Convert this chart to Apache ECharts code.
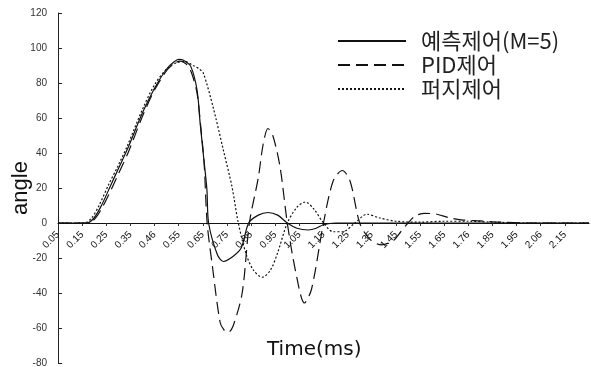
<!DOCTYPE html>
<html>
<head>
<meta charset="utf-8">
<script src="https://cdn.jsdelivr.net/npm/echarts@6/dist/echarts.min.js"></script>
<style>
  html, body { margin: 0; padding: 0; background: #fff; }
  #main { width: 591px; height: 367px; }
</style>
</head>
<body>
<div id="main"></div>
<script>
// 눈금 위치와 라벨 (그림에 찍힌 그대로)
const tickValues = [0.05, 0.15, 0.25, 0.35, 0.45, 0.55, 0.65, 0.75, 0.85, 0.95, 1.05,
                    1.15, 1.25, 1.35, 1.45, 1.55, 1.65, 1.75, 1.85, 1.95, 2.05, 2.15];
const tickLabels = ['0.05', '0.15', '0.25', '0.35', '0.46', '0.55', '0.65', '0.75', '0.85', '0.95', '1.05',
                    '1.15', '1.25', '1.35', '1.45', '1.55', '1.65', '1.76', '1.85', '1.95', '2.06', '2.15'];

const seriesNames = ['예측제어(M=5)', 'PID제어', '퍼지제어'];

// 예측제어 (실선)
const predTime = [0.05, 0.17, 0.20, 0.23, 0.27, 0.30, 0.34, 0.40, 0.45, 0.50, 0.53, 0.55, 0.57, 0.60,
                  0.626, 0.639, 0.653, 0.667, 0.674, 0.71, 0.735, 0.776, 0.81, 0.84, 0.88, 0.92, 0.96,
                  1.00, 1.04, 1.087, 1.12, 1.15, 1.20, 1.30, 1.50, 2.25];
const predValue = [0, 0, 3, 10, 22, 31, 43, 63, 77, 88, 92, 93.5, 93, 89.5,
                   76, 57, 38, 19, 0, -18, -22, -19, -14, 0, 4.5, 6, 4.5,
                   0, -3, -4, -3, -1, 0, 0, 0, 0];

// PID제어 (파선)
const pidTime = [0.05, 0.17, 0.20, 0.23, 0.27, 0.30, 0.34, 0.40, 0.45, 0.50, 0.53, 0.555, 0.58, 0.60,
                 0.625, 0.64, 0.655, 0.668, 0.69, 0.722, 0.74, 0.755, 0.775, 0.813, 0.843, 0.88, 0.90,
                 0.92, 0.94, 0.97, 1.00, 1.035, 1.071, 1.10, 1.15, 1.19, 1.228, 1.26, 1.30, 1.34,
                 1.39, 1.44, 1.47, 1.50, 1.53, 1.57, 1.62, 1.67, 1.72, 1.80, 1.88, 2.0, 2.25];
const pidValue = [0, 0, 2, 8, 19, 28, 40, 61, 76, 87, 91, 92.5, 91, 87,
                  75, 57, 35, 0, -25, -57, -61.5, -62.5, -59, -40, 0, 26, 45,
                  54, 50, 32, 0, -28, -45.7, -38, 0, 24, 30, 24, 0, -9,
                  -12.5, -10, -5, 0, 4, 5.5, 5, 3, 1.8, 1.2, 0.5, 0, 0];

// 퍼지제어 (점선)
const fuzzyTime = [0.05, 0.16, 0.19, 0.22, 0.26, 0.30, 0.34, 0.40, 0.45, 0.50, 0.54, 0.577, 0.61, 0.635,
                   0.652, 0.693, 0.735, 0.771, 0.797, 0.83, 0.86, 0.896, 0.93, 0.96, 1.00, 1.04, 1.075,
                   1.11, 1.15, 1.19, 1.23, 1.28, 1.33, 1.38, 1.45, 1.55, 1.65, 1.75, 1.85, 2.0, 2.25];
const fuzzyValue = [0, 0, 3, 10, 22, 33, 45, 65, 79, 88, 91.5, 92.2, 90, 88,
                    85.7, 66, 41.7, 20.6, 0, -18, -27, -31, -27, -17, 0, 9, 12,
                    8, 0, -5, -5, 0, 5, 3, 1, 0.5, 1, 1, 0.5, 0, 0];

function zip(t, v) {
    return t.map((x, i) => [x, v[i]]);
}

const chart = echarts.init(document.getElementById('main'));

const lineBase = { color: '#111', width: 1.2 };
// x축을 0 위치로 옮기기 위한 오프셋 (-80~120 범위에서 0은 grid 아래에서 80/200 지점)
const GRID_TOP = 13, GRID_BOTTOM = 4;
const zeroOffset = -(367 - GRID_TOP - GRID_BOTTOM) * 80 / 200;

function makeSeries(idx, dash, time, value) {
    return {
        name: seriesNames[idx],
        type: 'line',
        symbol: 'none',
        smooth: 0.3,
        itemStyle: { color: '#111' },
        lineStyle: Object.assign({}, lineBase, { type: dash }),
        data: zip(time, value)
    };
}

const option = {
    backgroundColor: '#fff',
    animation: false,
    textStyle: { fontFamily: 'Liberation Sans, Arial, sans-serif' },
    title: {
        text: 'Time(ms)',
        left: 267,
        top: 340,
        padding: 0,
        textStyle: { fontSize: 20, fontWeight: 'normal', color: '#111', fontFamily: 'DejaVu Sans, sans-serif' }
    },
    legend: {
        orient: 'vertical',
        left: 337,
        top: 30,
        itemWidth: 68,
        itemHeight: 14,
        itemGap: 2,
        padding: 0,
        itemStyle: { opacity: 0 },
        textStyle: {
            fontSize: 22,
            color: '#222',
            fontFamily: 'Noto Sans CJK KR, sans-serif',
            padding: [0, 0, 0, 10]
        },
        data: seriesNames
    },
    grid: { left: 58, right: 2, top: GRID_TOP, bottom: GRID_BOTTOM, outerBoundsMode: 'none' },
    xAxis: {
        type: 'value',
        min: 0.05,
        max: 2.25,
        offset: zeroOffset,
        splitLine: { show: false },
        axisLine: { onZero: false, lineStyle: { color: '#111', width: 1.2 } },
        axisTick: { customValues: tickValues, length: 3, lineStyle: { color: '#333' } },
        axisLabel: {
            customValues: tickValues,
            rotate: 45,
            fontSize: 10,
            color: '#111',
            margin: 10,
            formatter: function (value) {
                const i = tickValues.findIndex(t => Math.abs(t - value) < 1e-6);
                return i >= 0 ? tickLabels[i] : '';
            }
        }
    },
    yAxis: {
        type: 'value',
        min: -80,
        max: 120,
        interval: 20,
        name: 'angle',
        nameLocation: 'middle',
        nameGap: 26,
        nameMoveOverlap: false,
        nameTextStyle: { fontSize: 22, color: '#111' },
        splitLine: { show: false },
        axisLine: { show: true, onZero: false, lineStyle: { color: '#222', width: 1 } },
        axisTick: { show: true, inside: true, length: 4, lineStyle: { color: '#222' } },
        axisLabel: { fontSize: 10, color: '#333', margin: 11 }
    },
    series: [
        makeSeries(0, 'solid', predTime, predValue),
        makeSeries(1, [12, 6], pidTime, pidValue),
        makeSeries(2, [2, 2], fuzzyTime, fuzzyValue)
    ]
};

chart.setOption(option);
</script>
</body>
</html>
